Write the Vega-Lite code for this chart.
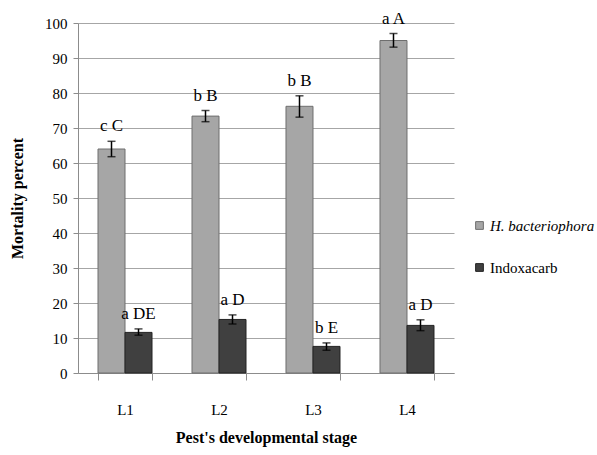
{
  "$schema": "https://vega.github.io/schema/vega-lite/v6.json",
  "width": 376,
  "height": 350,
  "autosize": "none",
  "padding": {"left": 78, "top": 23, "right": 143, "bottom": 82},
  "background": "white",
  "config": {
    "font": "Liberation Serif",
    "view": {"stroke": null},
    "axisY": {
      "titleFont": "Liberation Serif",
      "titleFontSize": 16,
      "titleFontWeight": "bold",
      "titleColor": "black",
      "titlePadding": 19,
      "labelFont": "Liberation Serif",
      "labelFontSize": 15,
      "labelColor": "black",
      "labelPadding": 6,
      "tickSize": 5,
      "tickColor": "#8c8c8c",
      "domainColor": "#8c8c8c",
      "gridColor": "#a6a6a6",
      "gridWidth": 1
    }
  },
  "data": {
    "values": [
      {"stage": "L1", "treat": "H. bacteriophora", "mean": 64.0, "lo": 61.8, "hi": 66.2, "label": "c C"},
      {"stage": "L2", "treat": "H. bacteriophora", "mean": 73.4, "lo": 71.8, "hi": 75.0, "label": "b B"},
      {"stage": "L3", "treat": "H. bacteriophora", "mean": 76.2, "lo": 73.1, "hi": 79.2, "label": "b B"},
      {"stage": "L4", "treat": "H. bacteriophora", "mean": 95.0, "lo": 93.1, "hi": 97.0, "label": "a A"},
      {"stage": "L1", "treat": "Indoxacarb", "mean": 11.6, "lo": 10.8, "hi": 12.6, "label": "a DE"},
      {"stage": "L2", "treat": "Indoxacarb", "mean": 15.3, "lo": 14.0, "hi": 16.6, "label": "a D"},
      {"stage": "L3", "treat": "Indoxacarb", "mean": 7.6, "lo": 6.5, "hi": 8.6, "label": "b E"},
      {"stage": "L4", "treat": "Indoxacarb", "mean": 13.6, "lo": 12.1, "hi": 15.2, "label": "a D"}
    ]
  },
  "encoding": {
    "x": {
      "field": "stage",
      "type": "nominal",
      "scale": {"paddingInner": 0.4255, "paddingOuter": 0.2128},
      "axis": {
        "title": "Pest's developmental stage",
        "titleFont": "Liberation Serif",
        "titleFontSize": 16,
        "titleFontWeight": "bold",
        "titleColor": "black",
        "titlePadding": 12,
        "labelAngle": 0,
        "labelFont": "Liberation Serif",
        "labelFontSize": 15,
        "labelColor": "black",
        "labelPadding": 22,
        "tickBand": "extent",
        "tickSize": 7,
        "tickColor": "#8c8c8c",
        "domainColor": "#8c8c8c",
        "grid": false
      }
    },
    "xOffset": {"field": "treat", "type": "nominal", "scale": {"paddingInner": 0, "paddingOuter": 0}}
  },
  "layer": [
    {
      "mark": {"type": "bar", "strokeWidth": 1},
      "encoding": {
        "y": {
          "field": "mean",
          "type": "quantitative",
          "scale": {"domain": [0, 100]},
          "axis": {"title": "Mortality percent", "values": [0, 10, 20, 30, 40, 50, 60, 70, 80, 90, 100]}
        },
        "color": {
          "field": "treat",
          "type": "nominal",
          "scale": {"domain": ["H. bacteriophora", "Indoxacarb"], "range": ["#a6a6a6", "#404040"]},
          "legend": {
            "title": null,
            "orient": "none",
            "legendX": 394,
            "legendY": 195,
            "symbolType": "square",
            "symbolSize": 60,
            "symbolStrokeColor": "#333333",
            "symbolStrokeWidth": 1,
            "labelFont": "Liberation Serif",
            "labelFontSize": 15,
            "labelColor": "black",
            "labelOffset": 3,
            "rowPadding": 26,
            "encode": {
              "labels": {
                "update": {
                  "fontStyle": {"signal": "datum.label == 'H. bacteriophora' ? 'italic' : 'normal'"}
                }
              }
            }
          }
        },
        "stroke": {
          "field": "treat",
          "type": "nominal",
          "scale": {"domain": ["H. bacteriophora", "Indoxacarb"], "range": ["#6e6e6e", "#222222"]},
          "legend": null
        }
      }
    },
    {
      "mark": {"type": "rule", "color": "black", "strokeWidth": 1.5},
      "encoding": {
        "y": {"field": "lo", "type": "quantitative", "axis": {"title": "Mortality percent", "values": [0, 10, 20, 30, 40, 50, 60, 70, 80, 90, 100]}},
        "y2": {"field": "hi"}
      }
    },
    {
      "mark": {"type": "tick", "color": "black", "thickness": 1.5, "size": 8, "orient": "horizontal"},
      "encoding": {
        "y": {"field": "lo", "type": "quantitative", "axis": {"title": "Mortality percent", "values": [0, 10, 20, 30, 40, 50, 60, 70, 80, 90, 100]}}
      }
    },
    {
      "mark": {"type": "tick", "color": "black", "thickness": 1.5, "size": 8, "orient": "horizontal"},
      "encoding": {
        "y": {"field": "hi", "type": "quantitative", "axis": {"title": "Mortality percent", "values": [0, 10, 20, 30, 40, 50, 60, 70, 80, 90, 100]}}
      }
    },
    {
      "mark": {"type": "text", "baseline": "alphabetic", "dy": -10, "fontSize": 17, "font": "Liberation Serif", "color": "black"},
      "encoding": {
        "y": {"field": "hi", "type": "quantitative", "axis": {"title": "Mortality percent", "values": [0, 10, 20, 30, 40, 50, 60, 70, 80, 90, 100]}},
        "text": {"field": "label"}
      }
    }
  ]
}
